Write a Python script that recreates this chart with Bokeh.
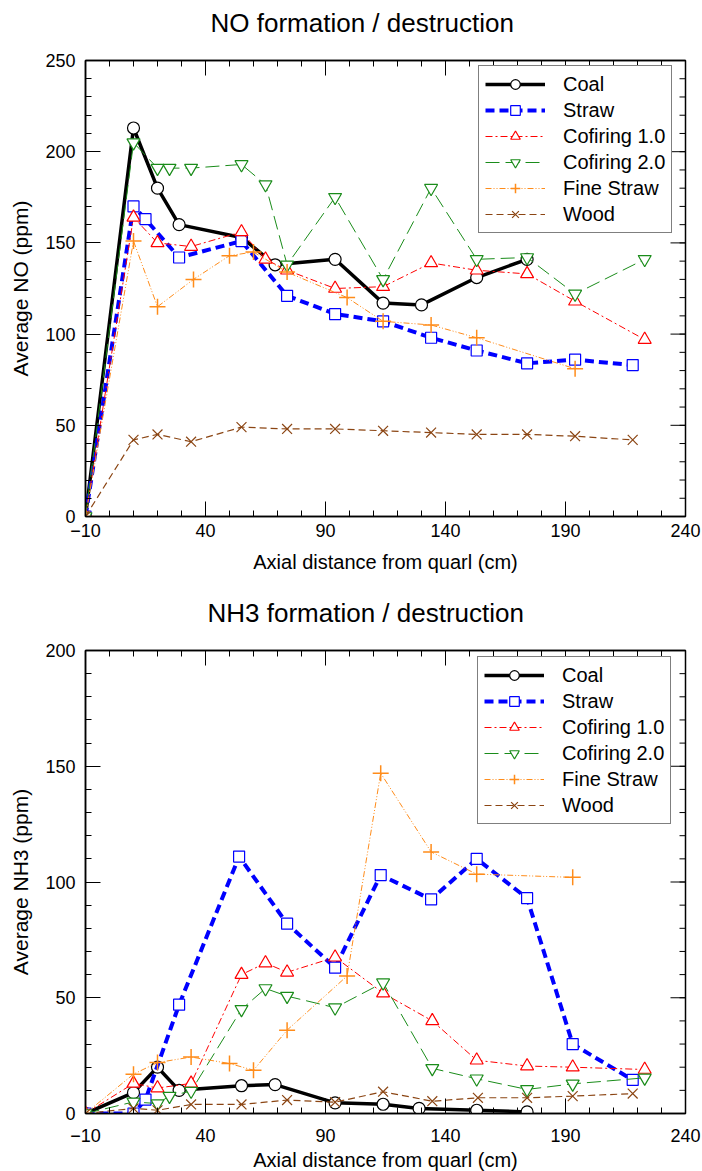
from bokeh.plotting import figure
from bokeh.models import (Range1d, FixedTicker, SingleIntervalTicker, LinearAxis, Legend,
                          LegendItem)
from bokeh.layouts import column
from bokeh.embed import file_html
from bokeh.resources import INLINE

# ---------------- data ----------------
series_names = ["Coal", "Straw", "Cofiring 1.0", "Cofiring 2.0", "Fine Straw", "Wood"]

# NO (ppm)
coal_no_x = [-10, 10, 20, 29, 55, 69, 94, 114, 130, 153, 174]
coal_no = [0, 213, 180, 160, 153, 138, 141, 117, 116, 131, 141]
straw_no_x = [-10, 10, 15, 29, 55, 74, 94, 114, 134, 153, 174, 194, 218]
straw_no = [0, 170, 163, 142, 151, 121, 111, 107, 98, 91, 84, 86, 83]
cof1_no_x = [-10, 10, 20, 34, 55, 65, 74, 94, 114, 134, 153, 174, 194, 223]
cof1_no = [0, 164, 150, 148, 156, 141, 135, 125, 126, 139, 135, 133, 118, 97]
cof2_no_x = [-10, 10, 20, 25, 34, 55, 65, 74, 94, 114, 134, 153, 174, 194, 223]
cof2_no = [0, 205, 191, 191, 191, 193, 182, 138, 175, 130, 180, 141, 142, 122, 141]
fine_no_x = [-10, 10, 20, 35, 50, 60, 74, 99, 114, 134, 153, 194]
fine_no = [0, 151, 115, 130, 143, 145, 134, 120, 107, 105, 98, 81]
wood_no_x = [-10, 10, 20, 34, 55, 74, 94, 114, 134, 153, 174, 194, 218]
wood_no = [0, 42, 45, 41, 49, 48, 48, 47, 46, 45, 45, 44, 42]

# NH3 (ppm)
coal_nh3_x = [-10, 10, 20, 29, 55, 69, 94, 114, 129, 153, 174]
coal_nh3 = [0, 9, 20, 10, 12, 12.5, 4.6, 4, 2.2, 1.4, 0.7]
straw_nh3_x = [-10, 10, 15, 29, 54, 74, 94, 113, 134, 153, 174, 193, 218]
straw_nh3 = [0, 0, 6, 47, 111, 82, 63, 103, 92.5, 110, 93, 30, 14.5]
cof1_nh3_x = [-10, 10, 20, 34, 55, 65, 74, 94, 114, 134.5, 153, 174, 193, 223]
cof1_nh3 = [0, 13, 11, 13, 60, 65, 61, 67.5, 52, 40, 23, 20.5, 20, 19]
cof2_nh3_x = [-10, 10, 20, 25, 34, 55, 65, 74, 94, 114, 134.5, 153, 174, 193, 223]
cof2_nh3 = [0, 5, 4.3, 7.5, 9.7, 45, 54, 50.7, 45.7, 56.5, 19.5, 15, 10.4, 12.8, 15.4]
fine_nh3_x = [-10, 10, 20, 34, 50, 60, 74, 99, 113, 134, 153, 193]
fine_nh3 = [0, 17, 22, 24.4, 21.6, 18.7, 36, 59.4, 147, 113, 103.4, 102]
wood_nh3_x = [-10, 10, 20, 34, 55, 74, 94, 114, 134.5, 153.5, 174, 193, 218]
wood_nh3 = [0, 2.2, 1.4, 3.9, 3.9, 5.8, 4.9, 9.4, 5.3, 6.8, 6.8, 7.5, 8.6]

x_major_ticks = [-10, 40, 90, 140, 190, 240]
x_minor_ticks = list(range(-10, 241, 10))

# ---------------- styles ----------------
styles = [
    dict(color="black", width=3.5, dash="solid", marker="circle", size=12, fill="white", mlw=1.2),
    dict(color="#0000ff", width=4, dash="9 5", marker="square", size=11, fill="white", mlw=1.2),
    dict(color="#ff0000", width=1, dash="7 3 2 3", marker="triangle", size=13, fill="white", mlw=1.2),
    dict(color="#1a8c1a", width=1, dash="14 6", marker="inverted_triangle", size=13, fill="white", mlw=1.2),
    dict(color="#ff8c1a", width=1, dash="6 2 1 2 1 2", marker="cross", size=16, fill="white", mlw=1.5),
    dict(color="#8b4513", width=1.2, dash="7 4", marker="x", size=14, fill="white", mlw=1.2),
]

FONT = "Liberation Sans"
FRAME_W = 600
MAJOR_LEN = 15
MINOR_LEN = 6


def mirror_ticks(p, ymax, frame_h):
    """Inward ticks on the top and right edges of the frame (mirrors of bottom/left)."""
    xmin, xmax = -10, 240
    px_x = FRAME_W / (xmax - xmin)
    px_y = frame_h / ymax
    y_major = list(range(0, ymax + 1, 50))
    y_minor = list(range(0, ymax + 1, 10))
    # top edge
    for ticks, ln in ((x_minor_ticks, MINOR_LEN), (x_major_ticks, MAJOR_LEN)):
        p.segment(x0=ticks, x1=ticks, y0=[ymax] * len(ticks),
                  y1=[ymax - ln / px_y] * len(ticks), line_color="black", line_width=1)
    # right edge
    for ticks, ln in ((y_minor, MINOR_LEN), (y_major, MAJOR_LEN)):
        p.segment(x0=[xmax] * len(ticks), x1=[xmax - ln / px_x] * len(ticks),
                  y0=ticks, y1=ticks, line_color="black", line_width=1)


def make_fig(title, title_offset, ylabel, ymax, series, frame_h, min_bottom,
             leg_loc, xtick_standoff, xlabel_standoff):
    p = figure(frame_width=FRAME_W, frame_height=frame_h,
               x_range=Range1d(-10, 240), y_range=Range1d(0, ymax),
               output_backend="svg", toolbar_location=None,
               min_border_left=85, min_border_right=17,
               min_border_top=60, min_border_bottom=min_bottom,
               title=title)
    p.title.text_font = FONT
    p.title.text_font_size = "26px"
    p.title.text_font_style = "normal"
    p.title.text_color = "black"
    p.title.align = "left"
    p.title.offset = title_offset
    p.title.standoff = 8
    p.grid.visible = False
    p.outline_line_color = "black"
    p.outline_line_width = 1.5
    p.background_fill_color = "white"
    p.border_fill_color = "white"

    xt = FixedTicker(ticks=x_major_ticks, minor_ticks=x_minor_ticks)
    yt = SingleIntervalTicker(interval=50, num_minor_ticks=5)

    p.xaxis.ticker = xt
    p.yaxis.ticker = yt
    p.xaxis.axis_label = "Axial distance from quarl (cm)"
    p.yaxis.axis_label = ylabel
    for ax in (p.xaxis[0], p.yaxis[0]):
        ax.axis_line_color = "black"
        ax.axis_line_width = 1.5
        ax.major_tick_in = MAJOR_LEN
        ax.major_tick_out = 0
        ax.minor_tick_in = MINOR_LEN
        ax.minor_tick_out = 0
        ax.major_tick_line_color = "black"
        ax.minor_tick_line_color = "black"
        ax.major_label_text_font = FONT
        ax.major_label_text_font_size = "18px"
        ax.major_label_text_color = "black"
        ax.axis_label_text_font = FONT
        ax.axis_label_text_font_style = "normal"
        ax.axis_label_text_color = "black"
        ax.axis_label_text_font_size = "20px"
    p.xaxis.major_label_standoff = xtick_standoff
    p.xaxis.axis_label_standoff = xlabel_standoff
    p.yaxis.major_label_standoff = 10
    p.yaxis.axis_label_standoff = 10
    p.yaxis.axis_label_text_font_size = "21px"

    # tick-less top axis: its blank label only keeps the title clear of the frame
    top = LinearAxis(ticker=FixedTicker(ticks=[], minor_ticks=[]))
    top.axis_line_color = "black"
    top.axis_line_width = 1.5
    top.major_tick_in = 0
    top.major_tick_out = 0
    top.minor_tick_in = 0
    top.minor_tick_out = 0
    top.axis_label = " "
    top.axis_label_text_font_size = "10px"
    top.axis_label_standoff = 5
    p.add_layout(top, "above")

    mirror_ticks(p, ymax, frame_h)

    items = []
    for name, (xs, ys), st in zip(series_names, series, styles):
        lr = p.line(xs, ys, line_color=st["color"], line_width=st["width"], line_dash=st["dash"])
        sr = p.scatter(xs, ys, marker=st["marker"], size=st["size"], line_color=st["color"],
                       fill_color=st["fill"], line_width=st["mlw"])
        items.append(LegendItem(label=name, renderers=[lr, sr]))

    leg = Legend(items=items, location=leg_loc, margin=0)
    leg.label_text_font = FONT
    leg.label_text_font_size = "20px"
    leg.label_text_color = "black"
    leg.glyph_width = 60
    leg.glyph_height = 24
    leg.label_height = 20
    leg.label_standoff = 18
    leg.spacing = 2
    leg.padding = 6
    leg.border_line_color = "black"
    leg.border_line_width = 1.2
    leg.background_fill_color = "white"
    leg.background_fill_alpha = 1.0
    p.add_layout(leg, "center")
    return p


p1 = make_fig("NO formation / destruction", 125, "Average NO (ppm)", 250,
              [(coal_no_x, coal_no), (straw_no_x, straw_no), (cof1_no_x, cof1_no),
               (cof2_no_x, cof2_no), (fine_no_x, fine_no), (wood_no_x, wood_no)],
              456, 74, (393, 283), 7, 11)
p2 = make_fig("NH3 formation / destruction", 122, "Average NH3 (ppm)", 200,
              [(coal_nh3_x, coal_nh3), (straw_nh3_x, straw_nh3), (cof1_nh3_x, cof1_nh3),
               (cof2_nh3_x, cof2_nh3), (fine_nh3_x, fine_nh3), (wood_nh3_x, wood_nh3)],
              463, 58, (392, 289), 15, 4)

layout = column(p1, p2, spacing=0)
open("out.html", "w").write(file_html(layout, INLINE))
